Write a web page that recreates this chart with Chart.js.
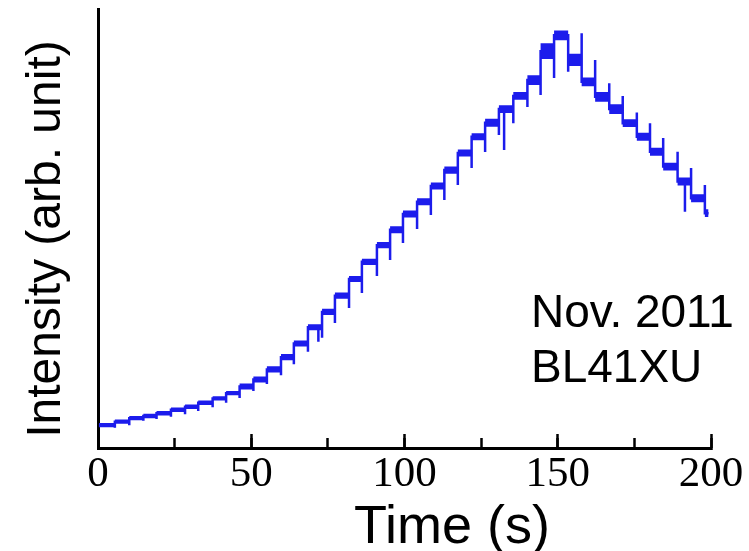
<!DOCTYPE html>
<html><head><meta charset="utf-8">
<script src="https://cdn.jsdelivr.net/npm/chart.js"></script>
<style>html,body{margin:0;padding:0;background:#fff;}#wrap{width:749px;height:551px;}</style>
</head><body><div id="wrap"><canvas id="c" width="749" height="551"></canvas></div>
<script>
// plateau start times (s)
const stepTimes = [0.3, 5.5, 10.2, 14.8, 19.1, 23.8, 28.4, 32.7, 37.4, 41.8, 46.2, 50.7, 55.1, 59.7, 63.9, 68.5, 73.1, 77.3, 81.9, 86.1, 91.0, 95.3, 99.5, 104.1, 108.6, 113.0, 117.4, 121.9, 126.3, 130.8, 135.5, 140.1, 144.4, 148.8, 153.4, 157.8, 162.2, 166.8, 171.2, 175.8, 180.1, 184.4, 189.1, 193.5, 198.0];
const endTime = 199.2;
// plateau intensity levels (arb. unit)
const levels = [5.2, 6.0, 6.8, 7.3, 7.9, 8.7, 9.4, 10.3, 11.3, 12.5, 14.0, 15.6, 17.9, 20.7, 23.8, 27.5, 31.0, 34.7, 38.5, 42.4, 46.2, 49.7, 53.3, 56.1, 59.7, 63.3, 67.2, 70.9, 74.1, 77.2, 80.2, 83.8, 90.4, 94.0, 88.4, 83.4, 80.0, 77.2, 74.0, 70.9, 67.5, 64.1, 60.7, 56.9, 53.5];
// transient spike value at each step
const spikes = [null, 4.6, 5.2, 6.2, 6.6, 7.1, 7.7, 8.4, 9.3, 10.3, 11.4, 13.0, 14.6, 16.6, 19.1, 21.9, 25.1, 28.5, 31.9, 35.3, 39.2, 42.8, 46.7, 49.9, 53.1, 56.5, 59.9, 63.8, 67.4, 71.3, 74.0, 77.7, 80.4, 84.3, 85.7, 94.5, 88.4, 83.1, 80.2, 76.4, 74.0, 70.6, 67.5, 63.8, 59.9];
// extra spikes in the middle of plateaus
const extraSpikeTimes = [71.9, 132.5, 191.5];
const extraSpikeValues = [24.2, 67.9, 53.8];
// half width of the noise band on each plateau
const noiseHalf = [0.5,0.5,0.5,0.5,0.5,0.5,0.5,0.5,0.5,0.5, 0.7,0.7,0.7,0.7,0.7,0.7,0.7,0.7,0.7,0.7,0.7, 0.8,0.8,0.8,0.8,0.8,0.8,0.8, 0.9,0.9,0.9, 1.1, 1.8, 1.1, 1.4, 1.0, 1.1, 1.1, 0.9,0.9,0.9,0.9,0.9,0.9,0.9];
const xTicks = [0, 50, 100, 150, 200];
const xMinorTicks = [0, 25, 50, 75, 100, 125, 150, 175, 200];

const BLUE = 'rgb(28,28,236)';

// build trace
const trace = [];
const upper = [], lower = [];
for (let k = 0; k < levels.length; k++) {
  const t0 = stepTimes[k];
  const t1 = k + 1 < stepTimes.length ? stepTimes[k + 1] : endTime;
  if (k === 0) trace.push({x: t0, y: levels[0]});
  else {
    trace.push({x: t0, y: levels[k - 1]});
    trace.push({x: t0, y: spikes[k]});
    trace.push({x: t0, y: levels[k]});
  }
  for (let j = 0; j < extraSpikeTimes.length; j++) {
    const ts = extraSpikeTimes[j];
    if (ts > t0 && ts < t1) {
      trace.push({x: ts, y: levels[k]});
      trace.push({x: ts, y: extraSpikeValues[j]});
      trace.push({x: ts, y: levels[k]});
    }
  }
  upper.push({x: t0, y: levels[k] + noiseHalf[k]});
  lower.push({x: t0, y: levels[k] - noiseHalf[k]});
}
const last = levels.length - 1;
trace.push({x: endTime, y: levels[last]});
upper.push({x: endTime, y: levels[last] + noiseHalf[last]});
lower.push({x: endTime, y: levels[last] - noiseHalf[last]});

const textPlugin = {
  id: 'texts',
  afterDraw(chart) {
    const c = chart.ctx;
    c.save();
    c.fillStyle = '#000';
    c.textBaseline = 'alphabetic';
    c.font = '54px "Liberation Sans", Arial, sans-serif';
    c.textAlign = 'center';
    c.fillText('Time (s)', 452, 543);
    c.font = '48px "Liberation Sans", Arial, sans-serif';
    c.save();
    c.translate(60, 239);
    c.rotate(-Math.PI / 2);
    c.fillText('Intensity (arb. unit)', 0, 0);
    c.restore();
    c.font = '46px "Liberation Sans", Arial, sans-serif';
    c.textAlign = 'left';
    c.fillText('Nov. 2011', 531, 327);
    c.fillText('BL41XU', 531, 382);
    c.restore();
  }
};

new Chart(document.getElementById('c'), {
  type: 'line',
  data: {
    datasets: [
      {label: 'band+', data: upper, stepped: true, borderWidth: 0, pointRadius: 0, fill: '+1', backgroundColor: BLUE, borderColor: BLUE, order: 2},
      {label: 'band-', data: lower, stepped: true, borderWidth: 0, pointRadius: 0, fill: false, borderColor: BLUE, order: 2},
      {label: 'Intensity', data: trace, borderColor: BLUE, borderWidth: 2.5, pointRadius: 0, fill: false, tension: 0, order: 1}
    ]
  },
  options: {
    responsive: false,
    animation: false,
    devicePixelRatio: 1,
    layout: {padding: {left: 0, top: 9, right: 38, bottom: 0}},
    plugins: {legend: {display: false}, tooltip: {enabled: false}},
    scales: {
      x: {
        type: 'linear', min: 0, max: 200, position: 'bottom', weight: 1,
        afterBuildTicks: (s) => { s.ticks = xTicks.map(v => ({value: v})); },
        ticks: {font: {family: 'Liberation Serif', size: 43, lineHeight: 1.79}, color: '#000', padding: 2, maxRotation: 0, autoSkip: false},
        grid: {drawOnChartArea: false, drawTicks: true, tickLength: -14, tickWidth: 2.5, tickColor: '#000'},
        border: {display: true, color: '#000', width: 3},
        afterFit: (s) => { s.height = 103; }
      },
      x2: {
        type: 'linear', min: 0, max: 200, position: 'bottom', weight: 0,
        afterBuildTicks: (s) => { s.ticks = xMinorTicks.map(v => ({value: v})); },
        ticks: {display: false},
        grid: {drawOnChartArea: false, drawTicks: true, tickLength: -10, tickWidth: 2.5, tickColor: '#000'},
        border: {display: false},
        afterFit: (s) => { s.height = 0; }
      },
      y: {
        type: 'linear', min: 0, max: 100,
        ticks: {display: false},
        grid: {display: false},
        border: {display: true, color: '#000', width: 3},
        afterFit: (s) => { s.width = 98; }
      }
    }
  },
  plugins: [textPlugin]
});
</script>
</body></html>
